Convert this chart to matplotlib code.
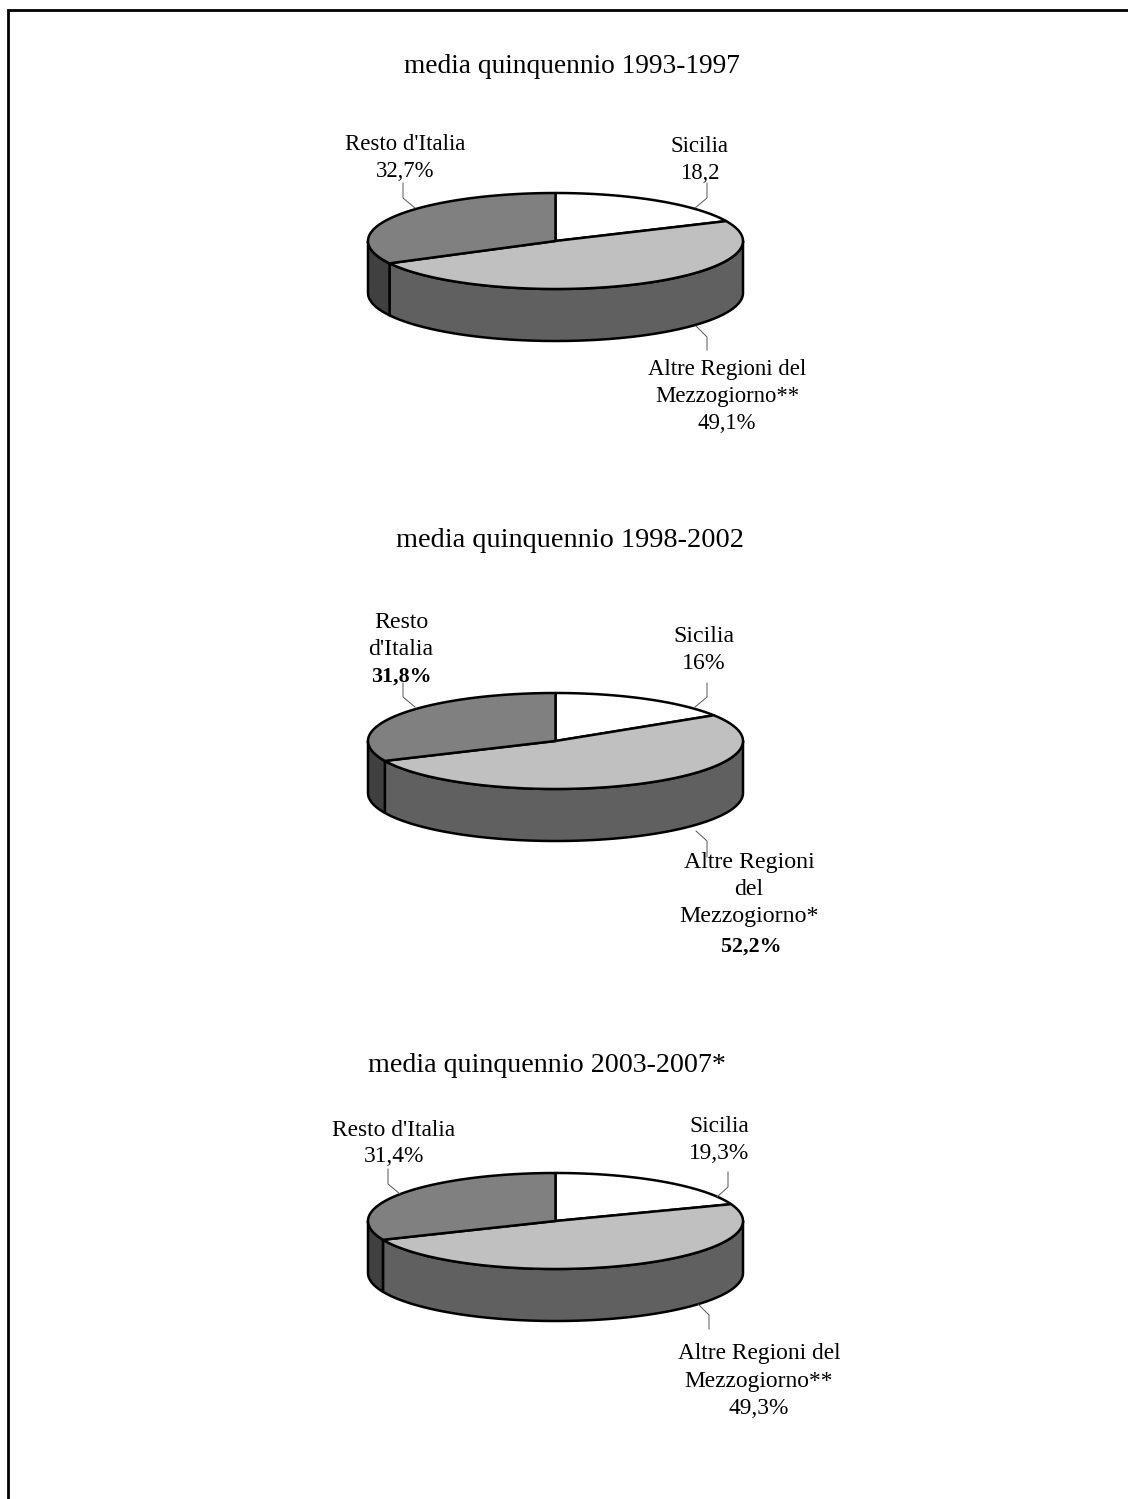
import numpy as np
import matplotlib
matplotlib.use("Agg")
import matplotlib.pyplot as plt
from matplotlib.patches import Polygon

plt.rcParams['font.family'] = ['Liberation Serif', 'DejaVu Serif']

# shares in percent, clockwise from 12 o'clock: Sicilia, Altre Regioni, Resto d'Italia
titles = ["media quinquennio 1993-1997", "media quinquennio 1998-2002", "media quinquennio 2003-2007*"]
shares_1993 = [18.2, 49.1, 32.7]
shares_1998 = [16.0, 52.2, 31.8]
shares_2003 = [19.3, 49.3, 31.4]
all_shares = [shares_1993, shares_1998, shares_2003]

labels_1993 = [["Sicilia", "18,2"], ["Altre Regioni del", "Mezzogiorno**", "49,1%"], ["Resto d'Italia", "32,7%"]]
labels_1998 = [["Sicilia", "16%"], ["Altre Regioni", "del", "Mezzogiorno*", "52,2%"], ["Resto", "d'Italia", "31,8%"]]
labels_2003 = [["Sicilia", "19,3%"], ["Altre Regioni del", "Mezzogiorno**", "49,3%"], ["Resto d'Italia", "31,4%"]]
all_labels = [labels_1993, labels_1998, labels_2003]

top_colors = ["#ffffff", "#c0c0c0", "#808080"]
side_colors = ["#a0a0a0", "#606060", "#404040"]

# layout in pixels
title_size = [19.75, 20.4, 20.2]
label_size = [16.4, 17.2, 16.8]
bold_size = 15.8
RX, RY, DEPTH = 187.5, 48, 52
CX = 555.5
pie_cy = [241, 741, 1221]
title_pos = [(572, 66), (570, 540), (547, 1065)]
# centre x, first line y, line step of each label block
label_pos = [
    [(700, 146, 27), (727, 369, 27), (405, 144, 27)],
    [(704, 636, 27), (749, 862, 27), (401, 622, 27)],
    [(719, 1127, 26.5), (759, 1354, 27), (394, 1130, 27)],
]
leaders = [
    [[(707, 183), (707, 198), (695, 208)], [(696, 326), (707, 337), (707, 350)], [(403, 183), (403, 198), (415, 208)]],
    [[(707, 683), (707, 697), (695, 707)], [(696, 831), (707, 841), (707, 857)], [(403, 683), (403, 697), (415, 707)]],
    [[(728, 1172), (728, 1187), (717, 1197)], [(698, 1304), (709, 1315), (709, 1329)], [(388, 1169), (388, 1184), (400, 1194)]],
]
# (chart, slice) of the values printed in bold, with their nudge in pixels
bold_values = {(1, 1): (2, 4), (1, 2): (0, 1)}


def rim(cy, a0, a1, n=120):
    # angles in degrees clockwise from 12 o'clock
    t = np.radians(np.linspace(a0, a1, n))
    return np.column_stack([CX + RX * np.sin(t), cy - RY * np.cos(t)])


def draw_pie(ax, cy, shares):
    edges = np.concatenate([[0], np.cumsum(shares)]) * 3.6
    edges[-1] = 360
    # front wall, only the part between 3 and 9 o'clock is seen
    for i in range(len(shares)):
        a0, a1 = max(edges[i], 90), min(edges[i + 1], 270)
        if a1 <= a0:
            continue
        upper = rim(cy, a0, a1)
        lower = (upper + [0, DEPTH])[::-1]
        ax.add_patch(Polygon(np.vstack([upper, lower]), closed=True, facecolor=side_colors[i],
                             edgecolor="black", linewidth=1.8, joinstyle="round"))
    # top face
    for i in range(len(shares)):
        pts = np.vstack([[(CX, cy)], rim(cy, edges[i], edges[i + 1])])
        ax.add_patch(Polygon(pts, closed=True, facecolor=top_colors[i],
                             edgecolor="black", linewidth=1.8, joinstyle="round"))


fig = plt.figure(figsize=(11.28, 14.99), dpi=100)
ax = fig.add_axes([0, 0, 1, 1])
ax.set_xlim(0, 1128)
ax.set_ylim(1499, 0)
ax.axis("off")

# page frame, open on the right and at the bottom
ax.plot([8, 8, 1128], [1499, 10, 10], color="black", linewidth=2.0, solid_joinstyle="miter")

for p in range(3):
    draw_pie(ax, pie_cy[p], all_shares[p])
    ax.text(title_pos[p][0], title_pos[p][1], titles[p], fontsize=title_size[p], ha="center", va="center")
    for s in range(3):
        xs, ys = zip(*leaders[p][s])
        ax.plot(xs, ys, color="#555555", linewidth=0.7)
        x, y, step = label_pos[p][s]
        lines = all_labels[p][s]
        for k, line in enumerate(lines):
            xx, yy = x, y + k * step
            if (p, s) in bold_values and k == len(lines) - 1:
                dx, dy = bold_values[(p, s)]
                ax.text(xx + dx, yy + dy, line, fontsize=bold_size, ha="center", va="center", fontweight="bold")
            else:
                ax.text(xx, yy, line, fontsize=label_size[p], ha="center", va="center")

fig.savefig("out.png", dpi=100, facecolor="white")
